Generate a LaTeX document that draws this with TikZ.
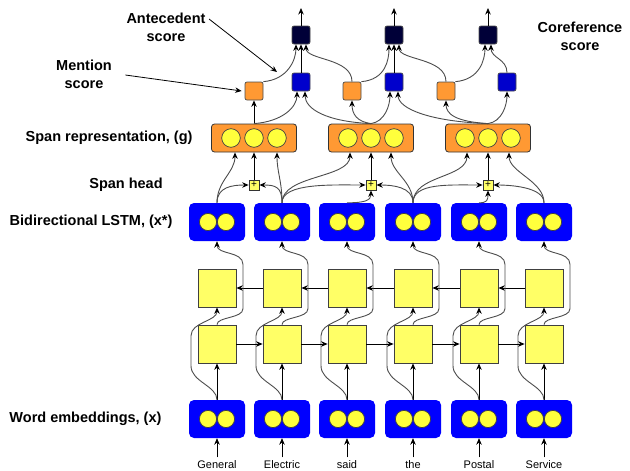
\documentclass[tikz,border=0pt]{standalone}
\usepackage{fontspec}
\setmainfont{Liberation Sans}
\usetikzlibrary{arrows.meta}

\definecolor{embblue}{RGB}{0,0,255}
\definecolor{unityellow}{RGB}{255,255,60}
\definecolor{cellyellow}{RGB}{255,255,102}
\definecolor{spanorange}{RGB}{255,153,51}
\definecolor{antblue}{RGB}{0,0,204}
\definecolor{corefnavy}{RGB}{0,0,56}

\begin{document}
\begin{tikzpicture}[
    x=1pt, y=-1pt,
    unit/.style={fill=unityellow, draw=black!75, line width=0.7pt},
    embed/.style={rectangle, rounded corners=5pt, fill=embblue, minimum width=56pt, minimum height=38pt,
        path picture={\foreach \sx in {-9,9} \draw[unit] ([xshift=\sx pt]path picture bounding box.center) circle (8.6pt);}},
    cell/.style={rectangle, draw=black!75, fill=cellyellow, line width=0.8pt, minimum size=38pt, inner sep=0pt},
    headbox/.style={rectangle, draw=black!80, fill=cellyellow, line width=0.7pt, minimum size=10pt, inner sep=0pt, font=\fontsize{10}{10}\selectfont},
    spanbox/.style={rectangle, rounded corners=3pt, draw=black!80, fill=spanorange, line width=0.8pt, minimum width=85pt, minimum height=28pt,
        path picture={\foreach \sx in {-23,0,23} \draw[unit] ([xshift=\sx pt]path picture bounding box.center) circle (9.3pt);}},
    score/.style={rectangle, rounded corners=2pt, draw=black!70, line width=0.7pt, minimum size=18pt, inner sep=0pt},
    mention/.style={score, fill=spanorange},
    antecedent/.style={score, fill=antblue},
    coref/.style={score, fill=corefnavy},
    word/.style={font=\fontsize{11}{13}\selectfont},
    layername/.style={font=\bfseries\fontsize{14.5}{18}\selectfont, align=center},
    arrow/.style={-{Stealth[length=6.5pt,width=5.5pt]}, line width=0.8pt},
    link/.style={-{Stealth[length=6.5pt,width=5.5pt,black]}, draw=black!70, line width=0.9pt}
]
\useasboundingbox (0,0) rectangle (630,471);

% Layer names
\node[layername] (antlab) at (166,27) {Antecedent\\score};
\node[layername] (menlab) at (84,74) {Mention\\score};
\node[layername] (coreflab) at (580,36) {Coreference\\score};
\node[layername, anchor=east] at (196,138) {Span representation, (g)};
\node[layername] at (126,185) {Span head};
\node[layername, anchor=east] at (176,222) {Bidirectional LSTM, (x*)};
\node[layername, anchor=east] at (165,419) {Word embeddings, (x)};

% Input words
\node[word] (t1) at (217,465) {General};
\node[word] (t2) at (282,465) {Electric};
\node[word] (t3) at (347,465) {said};
\node[word] (t4) at (413,465) {the};
\node[word] (t5) at (479,465) {Postal};
\node[word] (t6) at (544,465) {Service};

% Word embeddings
\node[embed] (e1) at (217,419) {};
\node[embed] (e2) at (282,419) {};
\node[embed] (e3) at (347,419) {};
\node[embed] (e4) at (413,419) {};
\node[embed] (e5) at (479,419) {};
\node[embed] (e6) at (544,419) {};

% Forward LSTM cells
\node[cell] (f1) at (217,344) {};
\node[cell] (f2) at (282,344) {};
\node[cell] (f3) at (347,344) {};
\node[cell] (f4) at (413,344) {};
\node[cell] (f5) at (479,344) {};
\node[cell] (f6) at (544,344) {};

% Backward LSTM cells
\node[cell] (b1) at (217,288) {};
\node[cell] (b2) at (282,288) {};
\node[cell] (b3) at (347,288) {};
\node[cell] (b4) at (413,288) {};
\node[cell] (b5) at (479,288) {};
\node[cell] (b6) at (544,288) {};

% BiLSTM outputs
\node[embed] (h1) at (217,222) {};
\node[embed] (h2) at (282,222) {};
\node[embed] (h3) at (347,222) {};
\node[embed] (h4) at (413,222) {};
\node[embed] (h5) at (479,222) {};
\node[embed] (h6) at (544,222) {};

% Span heads: General Electric / Electric said the / the Postal Service
\node[headbox] (hd1) at (254,185) {+};
\node[headbox] (hd2) at (371,185) {+};
\node[headbox] (hd3) at (488,185) {+};

% Span representations
\node[spanbox] (g1) at (254,138) {};
\node[spanbox] (g2) at (371,138) {};
\node[spanbox] (g3) at (488,138) {};

% Mention scores
\node[mention] (m1) at (254,91) {};
\node[mention] (m2) at (352,91) {};
\node[mention] (m3) at (446,91) {};

% Antecedent scores
\node[antecedent] (a1) at (301,82) {};
\node[antecedent] (a2) at (394,82) {};
\node[antecedent] (a3) at (507,82) {};

% Coreference scores
\node[coref] (c1) at (301,35) {};
\node[coref] (c2) at (394,35) {};
\node[coref] (c3) at (488,35) {};
\coordinate (o1) at (301,8);
\coordinate (o2) at (394,8);
\coordinate (o3) at (488,8);
\coordinate (antpt) at (277,72);

% Edges: words into embeddings
\draw[arrow] (t1) -- (e1);
\draw[arrow] (t2) -- (e2);
\draw[arrow] (t3) -- (e3);
\draw[arrow] (t4) -- (e4);
\draw[arrow] (t5) -- (e5);
\draw[arrow] (t6) -- (e6);

% Embeddings into forward cells, and round them into backward cells
\draw[arrow] (e1) -- (f1);
\draw[arrow] (e2) -- (f2);
\draw[arrow] (e3) -- (f3);
\draw[arrow] (e4) -- (f4);
\draw[arrow] (e5) -- (f5);
\draw[arrow] (e6) -- (f6);

\draw[link] (e1.north) .. controls +(0,-14) and +(0,16) .. ++(-26,-34) -- ++(0,-30) .. controls +(0,-14) and +(0,14) .. (b1.south);
\draw[link] (e2.north) .. controls +(0,-14) and +(0,16) .. ++(-26,-34) -- ++(0,-30) .. controls +(0,-14) and +(0,14) .. (b2.south);
\draw[link] (e3.north) .. controls +(0,-14) and +(0,16) .. ++(-26,-34) -- ++(0,-30) .. controls +(0,-14) and +(0,14) .. (b3.south);
\draw[link] (e4.north) .. controls +(0,-14) and +(0,16) .. ++(-26,-34) -- ++(0,-30) .. controls +(0,-14) and +(0,14) .. (b4.south);
\draw[link] (e5.north) .. controls +(0,-14) and +(0,16) .. ++(-26,-34) -- ++(0,-30) .. controls +(0,-14) and +(0,14) .. (b5.south);
\draw[link] (e6.north) .. controls +(0,-14) and +(0,16) .. ++(-26,-34) -- ++(0,-30) .. controls +(0,-14) and +(0,14) .. (b6.south);

% Recurrences
\draw[arrow] (f1) -- (f2);
\draw[arrow] (f2) -- (f3);
\draw[arrow] (f3) -- (f4);
\draw[arrow] (f4) -- (f5);
\draw[arrow] (f5) -- (f6);
\draw[arrow] (b6) -- (b5);
\draw[arrow] (b5) -- (b4);
\draw[arrow] (b4) -- (b3);
\draw[arrow] (b3) -- (b2);
\draw[arrow] (b2) -- (b1);

% Forward cells round the backward cells into BiLSTM outputs
\draw[link] (f1.north) .. controls +(0,-8) and +(0,10) .. ++(26,-16) -- ++(0,-44) .. controls +(0,-14) and +(0,14) .. (h1.south);
\draw[link] (f2.north) .. controls +(0,-8) and +(0,10) .. ++(26,-16) -- ++(0,-44) .. controls +(0,-14) and +(0,14) .. (h2.south);
\draw[link] (f3.north) .. controls +(0,-8) and +(0,10) .. ++(26,-16) -- ++(0,-44) .. controls +(0,-14) and +(0,14) .. (h3.south);
\draw[link] (f4.north) .. controls +(0,-8) and +(0,10) .. ++(26,-16) -- ++(0,-44) .. controls +(0,-14) and +(0,14) .. (h4.south);
\draw[link] (f5.north) .. controls +(0,-8) and +(0,10) .. ++(26,-16) -- ++(0,-44) .. controls +(0,-14) and +(0,14) .. (h5.south);
\draw[link] (f6.north) .. controls +(0,-8) and +(0,10) .. ++(26,-16) -- ++(0,-44) .. controls +(0,-14) and +(0,14) .. (h6.south);

% BiLSTM outputs into span heads and span ends
\draw[link] (h1.north) .. controls +(0,-22) and +(0,20) .. ([xshift=-19pt]g1.south);
\draw[link] (h1.north) .. controls +(0,-16) and +(-16,0) .. (hd1.west);
\draw[link] (h2.north) .. controls +(0,-16) and +(16,0) .. (hd1.east);
\draw[link] (h2.north) .. controls +(0,-22) and +(0,20) .. ([xshift=23pt]g1.south);
\draw[link] (h2.north) .. controls +(0,-28) and +(0,26) .. ([xshift=-21pt]g2.south);
\draw[link] (h2.north) .. controls +(0,-20) and +(-34,0) .. (hd2.west);
\draw[link] (h3.north) .. controls +(18,0) and +(0,10) .. (hd2.south);
\draw[link] (h4.north) .. controls +(0,-16) and +(16,0) .. (hd2.east);
\draw[link] (h4.north) .. controls +(0,-22) and +(0,20) .. ([xshift=20pt]g2.south);
\draw[link] (h4.north) .. controls +(0,-28) and +(0,26) .. ([xshift=-21pt]g3.south);
\draw[link] (h4.north) .. controls +(0,-20) and +(-34,0) .. (hd3.west);
\draw[link] (h5.north) .. controls +(8,0) and +(0,10) .. (hd3.south);
\draw[link] (h6.north) .. controls +(0,-16) and +(16,0) .. (hd3.east);
\draw[link] (h6.north) .. controls +(0,-22) and +(0,20) .. ([xshift=21pt]g3.south);

\draw[arrow] (hd1) -- (g1);
\draw[arrow] (hd2) -- (g2);
\draw[arrow] (hd3) -- (g3);

% Spans into mention and antecedent scores
\draw[arrow] (g1) -- (m1);
\draw[link] (g1.north) .. controls +(28,-2) and +(0,16) .. ([xshift=-4pt]a1.south);
\draw[link] (g2.north) .. controls +(-14,-2) and +(0,14) .. (m2.south);
\draw[link] (g2.north) .. controls +(14,-2) and +(0,14) .. ([xshift=-4pt]a2.south);
\draw[link] (g2.north) .. controls +(-44,-2) and +(0,18) .. ([xshift=4pt]a1.south);
\draw[link] (g3.north) .. controls +(-32,-2) and +(0,14) .. (m3.south);
\draw[link] (g3.north) .. controls +(14,-2) and +(0,14) .. (a3.south);
\draw[link] (g3.north) .. controls +(-56,-2) and +(0,18) .. ([xshift=4pt]a2.south);

% Scores into coreference scores
\draw[link] (m1.north east) .. controls +(24,-2) and +(0,16) .. ([xshift=-5pt]c1.south);
\draw[arrow] (a1) -- (c1);
\draw[link] (m2.north) .. controls +(0,-24) and +(0,16) .. ([xshift=5pt]c1.south);
\draw[link] (m2.north east) .. controls +(24,-2) and +(0,16) .. ([xshift=-5pt]c2.south);
\draw[arrow] (a2) -- (c2);
\draw[link] (m3.north) .. controls +(0,-24) and +(0,16) .. ([xshift=5pt]c2.south);
\draw[link] (m3.north east) .. controls +(24,-2) and +(0,16) .. ([xshift=-3pt]c3.south);
\draw[link] (a3.north) .. controls +(0,-14) and +(0,14) .. ([xshift=3pt]c3.south);

\draw[arrow] (c1) -- (o1);
\draw[arrow] (c2) -- (o2);
\draw[arrow] (c3) -- (o3);

% Pointers from the score names
\draw[arrow] ([xshift=10pt,yshift=-1pt]menlab.east) -- ([xshift=-3pt]m1.west);
\draw[arrow] ([yshift=8pt]antlab.east) -- (antpt);

\end{tikzpicture}
\end{document}
